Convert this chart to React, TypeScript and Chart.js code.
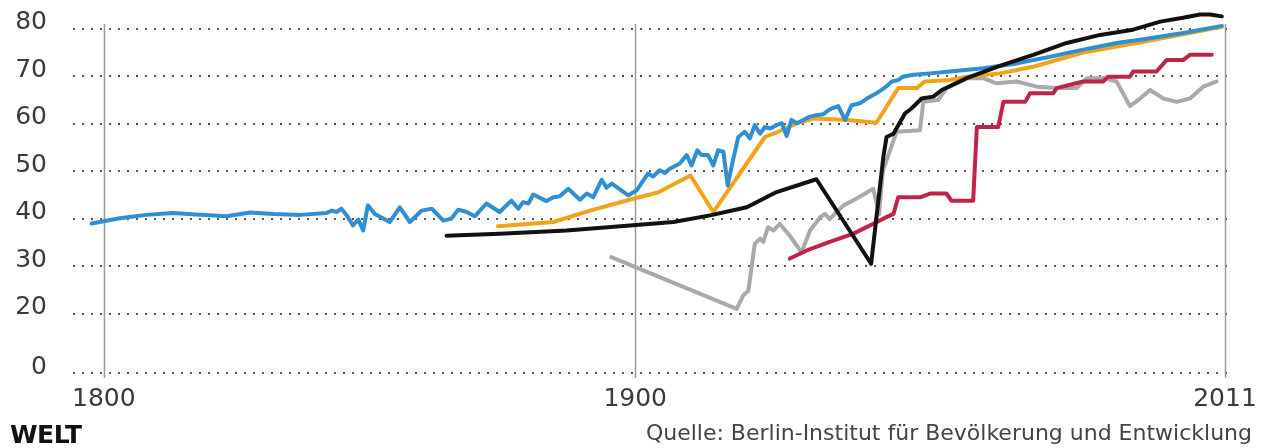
import { useEffect, useRef } from "react";
import { Chart, registerables } from "chart.js";

Chart.register(...registerables);

// Axis ticks
const X_TICKS = [1800, 1900, 2011];
const X_TICK_LABELS = ["1800", "1900", "2011"];
const Y_TICKS = [7.5, 20, 30, 40, 50, 60, 70, 80];
const Y_TICK_LABELS = ["0", "20", "30", "40", "50", "60", "70", "80"];

// Blue series
const BLUE_YEARS = [1797.7, 1803, 1808, 1813, 1817.4, 1823.1, 1827.5, 1831.9, 1837, 1841.9, 1842.9, 1843.8, 1844.7, 1845.7, 1846.9, 1847.9, 1848.8, 1849.7, 1851, 1853.8, 1855.7, 1857.6, 1859.8, 1861.7, 1863.9, 1865.4, 1866.7, 1868.3, 1869.8, 1872, 1874.5, 1876.7, 1878, 1878.9, 1879.9, 1880.8, 1883.3, 1884.6, 1885.8, 1887.4, 1889.6, 1890.9, 1892.1, 1893.7, 1894.6, 1895.6, 1898.7, 1900.3, 1902.4, 1903.4, 1904.6, 1905.6, 1906.5, 1908.4, 1909.7, 1910.6, 1911.7, 1912.5, 1913.7, 1914.7, 1915.6, 1916.6, 1917.4, 1918.4, 1919.4, 1920.6, 1921.6, 1922.5, 1923.5, 1924.4, 1925.4, 1926.6, 1927.6, 1928.5, 1929.4, 1930.4, 1932.9, 1934.1, 1935.4, 1936.6, 1938.2, 1939.5, 1940.7, 1942.3, 1943.6, 1945.4, 1947, 1948.3, 1949.5, 1950.4, 1952.3, 1955.5, 1959.2, 1965.5, 1971.8, 1978.1, 1984.3, 1990.6, 1996.9, 2003.1, 2010.4];
const BLUE_VALUES = [39.0, 40.1, 40.8, 41.2, 40.9, 40.5, 41.3, 41.0, 40.8, 41.2, 41.7, 41.4, 42.1, 40.7, 38.6, 39.8, 37.5, 42.8, 41.0, 39.3, 42.4, 39.3, 41.7, 42.1, 39.6, 40.0, 41.9, 41.4, 40.5, 43.2, 41.4, 43.8, 42.1, 43.5, 43.2, 45.1, 43.7, 44.5, 44.7, 46.3, 44.0, 45.3, 44.5, 48.2, 46.5, 47.4, 44.9, 46.0, 49.5, 48.9, 50.2, 49.6, 50.5, 51.6, 53.4, 51.2, 54.4, 53.4, 53.4, 51.2, 54.4, 54.1, 47.0, 52.3, 57.2, 58.3, 56.9, 59.7, 57.9, 59.3, 59.0, 59.7, 60.1, 57.4, 60.8, 60.1, 61.5, 61.8, 62.0, 63.0, 63.7, 60.8, 63.9, 64.3, 65.3, 66.4, 67.6, 68.9, 69.2, 69.9, 70.3, 70.6, 71.0, 71.7, 72.7, 74.1, 75.6, 77.0, 78.0, 79.1, 80.6];

// Orange series
const ORANGE_YEARS = [1874.2, 1884.6, 1891.5, 1899.6, 1904.3, 1910.4, 1914.7, 1924.4, 1926.9, 1930.4, 1933.5, 1940, 1945.4, 1949.5, 1953, 1954.5, 1959.2, 1962.4, 1968.6, 1974.9, 1984.3, 1996.9, 2010.4];
const ORANGE_VALUES = [38.4, 39.3, 41.7, 44.2, 45.5, 49.1, 41.4, 57.2, 58.3, 60.1, 61.1, 60.8, 60.2, 67.5, 67.5, 68.9, 69.2, 69.9, 70.6, 72.0, 75.0, 77.5, 80.4];

// Black series
const BLACK_YEARS = [1864.5, 1874.5, 1887.1, 1899.6, 1907.2, 1914.1, 1921, 1926.6, 1934.1, 1944.4, 1946.7, 1947.3, 1948.6, 1950.8, 1952, 1953.9, 1956.1, 1957.7, 1962.4, 1968.6, 1974.9, 1981.2, 1987.5, 1993.7, 1998.8, 2003.1, 2006.3, 2008.2, 2010.4];
const BLACK_VALUES = [36.4, 36.8, 37.5, 38.6, 39.3, 40.7, 42.4, 45.6, 48.3, 30.5, 53.0, 57.2, 57.9, 62.2, 63.2, 65.3, 65.7, 67.1, 69.6, 72.2, 74.5, 77.0, 78.7, 79.8, 81.5, 82.3, 83.0, 83.0, 82.6];

// Gray series
const GRAY_YEARS = [1895.5, 1919.1, 1920.3, 1921.3, 1922.5, 1923.5, 1924.1, 1925, 1926, 1927.2, 1929.1, 1931.3, 1932.9, 1934.8, 1935.7, 1936.6, 1937.9, 1939.2, 1941.1, 1944.8, 1945.9, 1946.6, 1947.3, 1949.2, 1953.6, 1954.2, 1957, 1958.6, 1962.4, 1965.5, 1968, 1971.8, 1975.6, 1979.3, 1983.1, 1985, 1988.1, 1990.6, 1993.1, 1995, 1996.9, 1999.4, 2001.9, 2004.4, 2006.9, 2009.4];
const GRAY_VALUES = [31.9, 21.0, 23.8, 24.8, 34.7, 35.8, 35.1, 38.2, 37.5, 38.9, 36.4, 32.9, 37.5, 40.3, 41.0, 39.9, 41.4, 42.8, 43.9, 46.3, 41.0, 50.0, 52.3, 58.3, 58.6, 64.6, 65.0, 67.5, 69.6, 69.6, 68.5, 68.9, 67.8, 67.5, 67.5, 69.6, 69.6, 68.9, 63.7, 65.3, 67.1, 65.3, 64.6, 65.3, 67.8, 68.9];

// Red series
const RED_YEARS = [1929.1, 1932.3, 1936.6, 1941, 1946.7, 1948.6, 1949.5, 1953.6, 1955.5, 1958.6, 1959.5, 1963.6, 1964.3, 1968.3, 1969.3, 1973.4, 1974.3, 1978.7, 1979.3, 1984.3, 1988.1, 1989, 1993.1, 1993.7, 1998.1, 2000, 2003.1, 2004.4, 2008.5];
const RED_VALUES = [31.6, 33.3, 35.1, 36.8, 40.0, 41.0, 44.5, 44.5, 45.3, 45.3, 43.8, 43.8, 59.3, 59.3, 64.6, 64.6, 66.4, 66.4, 67.5, 68.9, 68.9, 69.9, 69.9, 71.0, 71.0, 73.4, 73.4, 74.5, 74.5];

const SOURCE_TEXT = "Quelle: Berlin-Institut für Bevölkerung und Entwicklung";
const LOGO_TEXT = "WELT";

const FONT = "'DejaVu Sans', sans-serif";

const pts = (xs: number[], ys: number[]) => xs.map((x, i) => ({ x, y: ys[i] }));

const verticalLines = {
  id: "verticalLines",
  beforeDatasetsDraw(chart: any) {
    const { ctx, chartArea, scales } = chart;
    const top = scales.y.getPixelForValue(81);
    ctx.save();
    ctx.strokeStyle = "#9a9a9a";
    ctx.lineWidth = 1.5;
    X_TICKS.forEach((v) => {
      const x = Math.round(scales.x.getPixelForValue(v)) + 0.5;
      ctx.beginPath();
      ctx.moveTo(x, top);
      ctx.lineTo(x, chartArea.bottom + 5);
      ctx.stroke();
    });
    ctx.restore();
  },
};

export default function App() {
  const ref = useRef<HTMLCanvasElement | null>(null);

  useEffect(() => {
    if (!ref.current) return;
    const line = (data: any, color: string) => ({
      data,
      borderColor: color,
      backgroundColor: color,
      borderWidth: 4,
      pointRadius: 0,
      tension: 0,
      fill: false,
      borderJoinStyle: "round",
      borderCapStyle: "round",
    });
    const chart = new Chart(ref.current, {
      type: "line",
      data: {
        datasets: [
          line(pts(BLACK_YEARS, BLACK_VALUES), "#111111"),
          line(pts(BLUE_YEARS, BLUE_VALUES), "#2f8fd1"),
          line(pts(ORANGE_YEARS, ORANGE_VALUES), "#f2a31b"),
          line(pts(RED_YEARS, RED_VALUES), "#c0224a"),
          line(pts(GRAY_YEARS, GRAY_VALUES), "#a9a9a9"),
        ] as any,
      },
      options: {
        responsive: false,
        animation: false,
        devicePixelRatio: 1,
        layout: { padding: { left: 0, right: 29, top: 5, bottom: 0 } },
        plugins: { legend: { display: false }, tooltip: { enabled: false } },
        scales: {
          x: {
            type: "linear",
            min: 1794.2,
            max: 2012.5,
            afterBuildTicks: (s: any) => {
              s.ticks = X_TICKS.map((v) => ({ value: v }));
            },
            afterFit: (s: any) => {
              s.height = 75;
              s.paddingLeft = 0;
              s.paddingRight = 0;
            },
            grid: { display: false },
            border: { display: false },
            ticks: {
              padding: 3,
              maxRotation: 0,
              autoSkip: false,
              color: "#3a3a3a",
              font: { family: FONT, size: 25 },
              callback: (v: any) => X_TICK_LABELS[X_TICKS.indexOf(Number(v))] ?? "",
            },
          },
          y: {
            type: "linear",
            min: 7.5,
            max: 85,
            afterBuildTicks: (s: any) => {
              s.ticks = Y_TICKS.map((v) => ({ value: v }));
            },
            afterFit: (s: any) => {
              s.width = 73;
              s.paddingTop = 0;
              s.paddingBottom = 0;
            },
            grid: {
              color: "rgba(60,60,60,0.85)",
              lineWidth: 2,
              drawTicks: false,
              tickLength: 0,
            },
            border: { display: false, dash: [2, 7] },
            ticks: {
              padding: 26,
              labelOffset: -6,
              autoSkip: false,
              color: "#3a3a3a",
              font: { family: FONT, size: 25 },
              callback: (v: any) => Y_TICK_LABELS[Y_TICKS.indexOf(Number(v))] ?? "",
            },
          },
        },
      },
      plugins: [verticalLines],
    });
    return () => chart.destroy();
  }, []);

  return (
    <div style={{ position: "fixed", left: 0, top: 0, width: 1262, height: 448, background: "#fff" }}>
      <canvas ref={ref} width={1262} height={448} style={{ display: "block" }} />
      <div
        style={{
          position: "absolute",
          left: 10,
          top: 422,
          fontFamily: FONT,
          fontWeight: 900,
          fontSize: 25,
          lineHeight: "25px",
          color: "#111",
          letterSpacing: "-0.5px",
        }}
      >
        {LOGO_TEXT}
      </div>
      <div
        style={{
          position: "absolute",
          right: 10,
          top: 422,
          fontFamily: FONT,
          fontSize: 22,
          lineHeight: "22px",
          color: "#444",
          whiteSpace: "nowrap",
        }}
      >
        {SOURCE_TEXT}
      </div>
    </div>
  );
}
